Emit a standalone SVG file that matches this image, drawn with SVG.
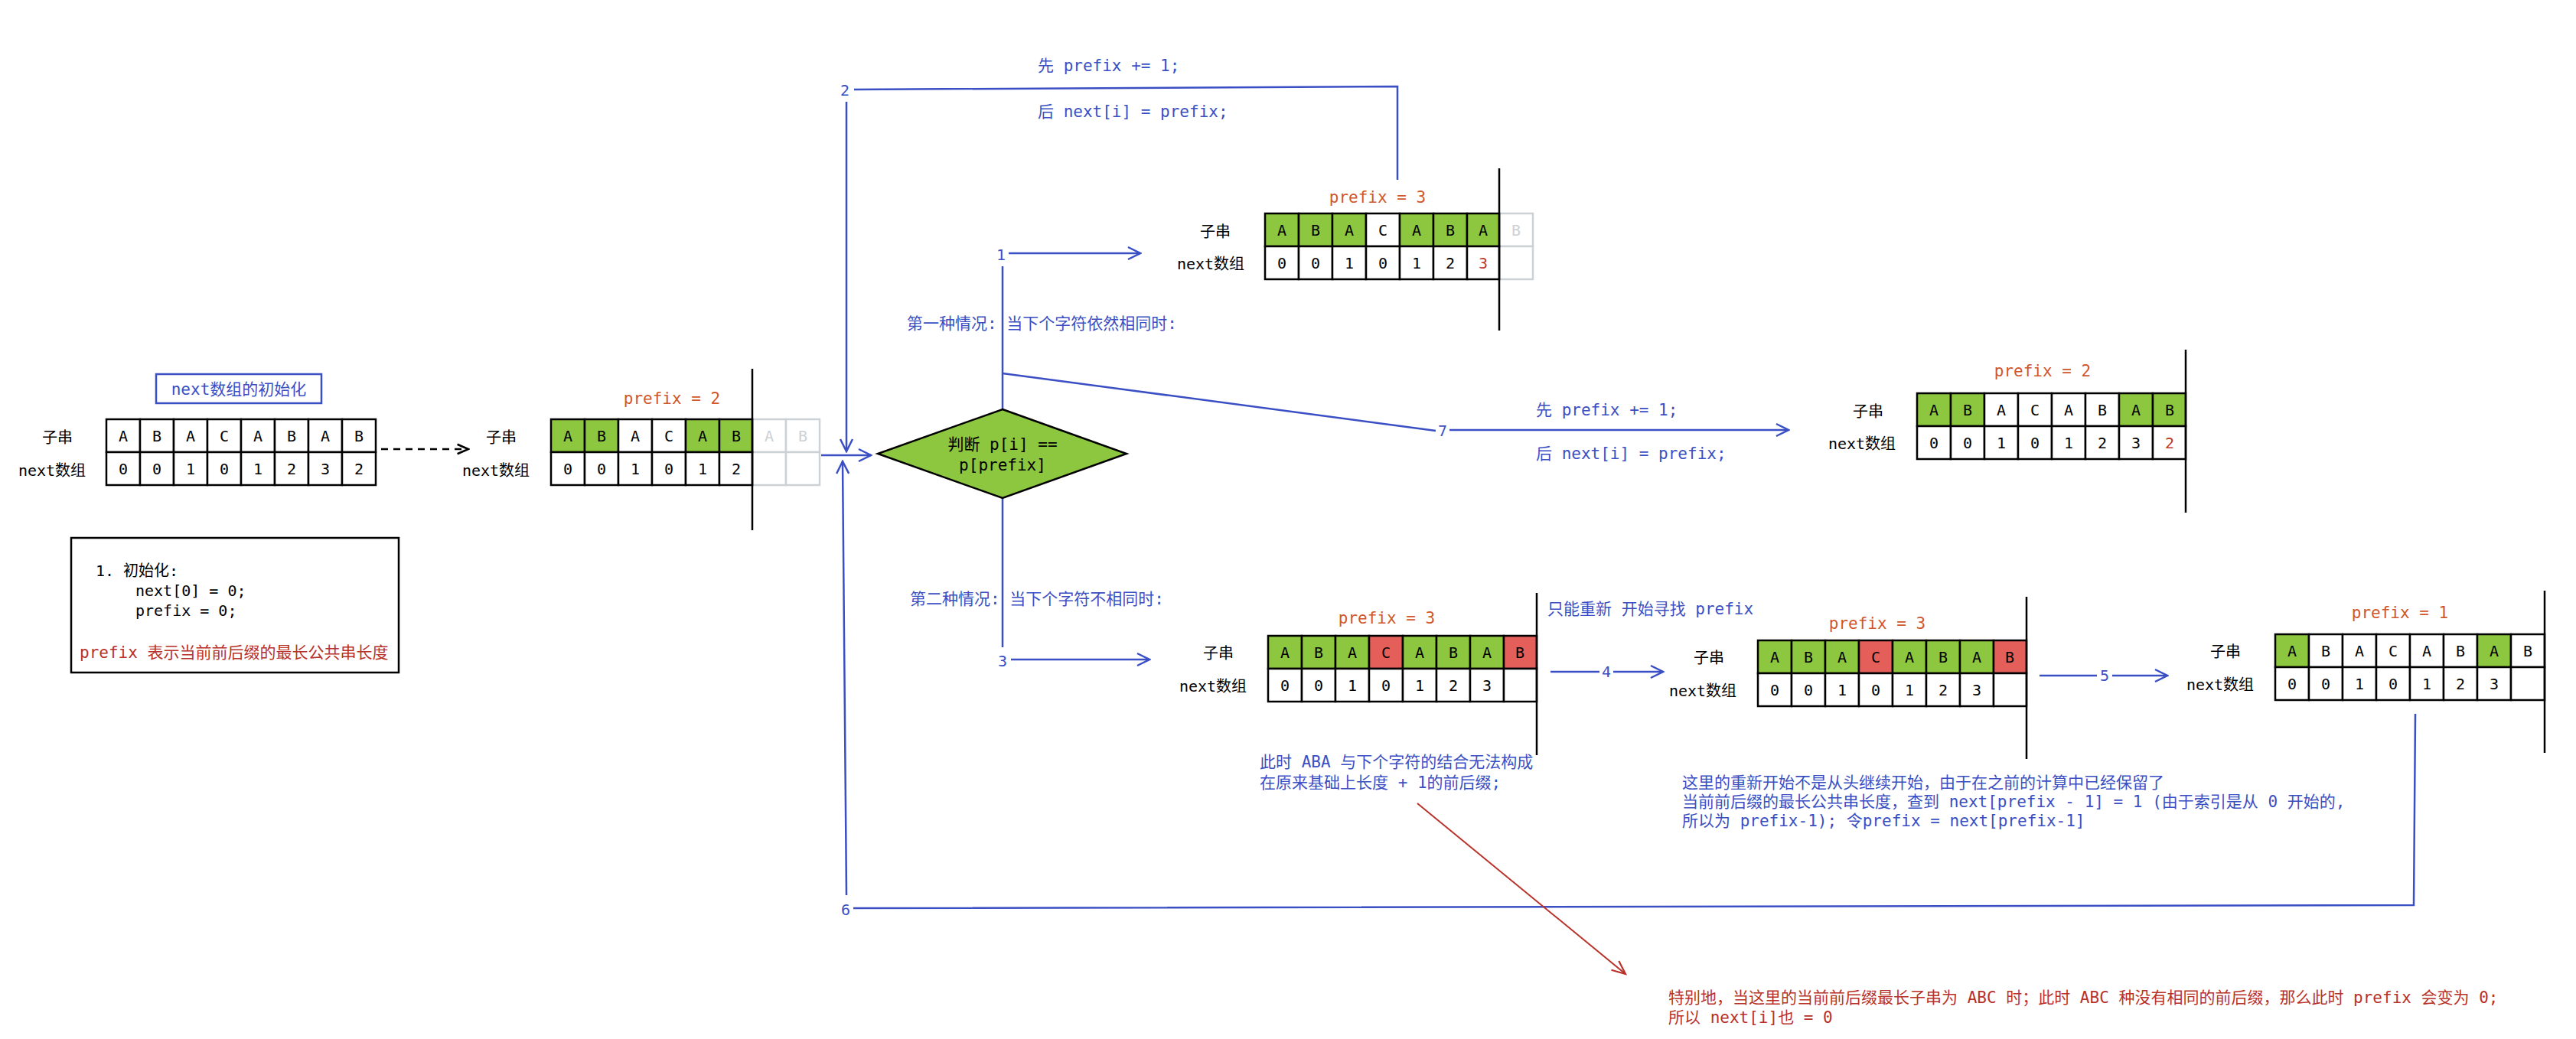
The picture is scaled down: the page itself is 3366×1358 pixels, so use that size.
<svg xmlns="http://www.w3.org/2000/svg" width="3366" height="1358" viewBox="0 0 3366 1358">
<defs>
<style>
text{font-family:"DejaVu Sans Mono","Noto Sans CJK SC",monospace;}
.cell{fill:#fff;stroke:#000;stroke-width:2.5;}
.g{fill:#8dc63f;}
.r{fill:#e45f59;}
.gc{fill:#fff;stroke:#ccd1d6;stroke-width:2.5;}
.ct{font-size:20px;fill:#000;text-anchor:middle;}
.gt{font-size:20px;fill:#ccd1d6;text-anchor:middle;}
.rt{font-size:20px;fill:#c0392b;text-anchor:middle;}
.lbl{font-size:20px;fill:#000;text-anchor:middle;}
.pf{font-size:21px;fill:#d0572b;text-anchor:middle;}
.bt{font-size:21px;fill:#3b4fc4;}
.num{font-size:20px;fill:#3b4fc4;text-anchor:middle;}
.red{font-size:21px;fill:#b8322a;}
.vl{stroke:#000;stroke-width:2.5;}
.con{stroke:#3b4fc4;stroke-width:2.5;fill:none;}
</style>
<marker id="ab" viewBox="0 0 20 20" refX="18" refY="10" markerWidth="20" markerHeight="20" markerUnits="userSpaceOnUse" orient="auto">
<path d="M2,2 L18,10 L2,18" fill="none" stroke="#3b4fc4" stroke-width="2.5"/>
</marker>
<marker id="ak" viewBox="0 0 20 20" refX="18" refY="10" markerWidth="18" markerHeight="18" markerUnits="userSpaceOnUse" orient="auto">
<path d="M2,3 L18,10 L2,17" fill="none" stroke="#000" stroke-width="3"/>
</marker>
<marker id="ar" viewBox="0 0 20 20" refX="18" refY="10" markerWidth="22" markerHeight="22" markerUnits="userSpaceOnUse" orient="auto">
<path d="M2,3 L18,10 L2,17" fill="none" stroke="#b8322a" stroke-width="2"/>
</marker>
</defs>
<rect width="3366" height="1358" fill="#fff"/>

<g id="connectors">
<line x1="482" y1="587" x2="612" y2="587" stroke="#000" stroke-width="2.5" stroke-dasharray="9,7" marker-end="url(#ak)"/>
<path class="con" d="M1826,235 L1826,113 L1116,117"/>
<path class="con" d="M1106,133 L1106,590" marker-end="url(#ab)"/>
<path class="con" d="M1073,595 L1138,595" marker-end="url(#ab)"/>
<path class="con" d="M1310,535 L1310,348"/>
<path class="con" d="M1318,331 L1490,331" marker-end="url(#ab)"/>
<path class="con" d="M1310,488 L1876,563"/>
<path class="con" d="M1894,562 L2337,562" marker-end="url(#ab)"/>
<path class="con" d="M1310,651 L1310,846"/>
<path class="con" d="M1321,862 L1502,862" marker-end="url(#ab)"/>
<path class="con" d="M2026,878 L2090,878 M2108,878 L2173,878" marker-end="url(#ab)"/>
<path class="con" d="M2665,883 L2740,883 M2760,883 L2832,883" marker-end="url(#ab)"/>
<path class="con" d="M3156,933 L3154,1183 L1115,1187"/>
<path class="con" d="M1106,1170 L1101,603" marker-end="url(#ab)"/>
<line x1="1852" y1="1050" x2="2124" y2="1273" stroke="#b8322a" stroke-width="2" marker-end="url(#ar)"/>
<text class="num" x="1104" y="125">2</text>
<text class="num" x="1308" y="340">1</text>
<text class="num" x="1310" y="871">3</text>
<text class="num" x="1885" y="570">7</text>
<text class="num" x="2099" y="885">4</text>
<text class="num" x="2750" y="890">5</text>
<text class="num" x="1105" y="1196">6</text>
</g>

<g id="init-title">
<rect x="204" y="489" width="216" height="38" fill="#fff" stroke="#3b4fc4" stroke-width="2.5"/>
<text class="bt" x="312" y="516" text-anchor="middle">next数组的初始化</text>
</g>

<g id="array-init">
<text class="lbl" x="75" y="579">子串</text>
<text class="lbl" x="68" y="622">next数组</text>
<rect class="cell" x="139" y="548" width="44" height="43"/><rect class="cell" x="183" y="548" width="44" height="43"/><rect class="cell" x="227" y="548" width="44" height="43"/><rect class="cell" x="271" y="548" width="44" height="43"/><rect class="cell" x="315" y="548" width="44" height="43"/><rect class="cell" x="359" y="548" width="44" height="43"/><rect class="cell" x="403" y="548" width="44" height="43"/><rect class="cell" x="447" y="548" width="44" height="43"/>
<rect class="cell" x="139" y="591" width="44" height="43"/><rect class="cell" x="183" y="591" width="44" height="43"/><rect class="cell" x="227" y="591" width="44" height="43"/><rect class="cell" x="271" y="591" width="44" height="43"/><rect class="cell" x="315" y="591" width="44" height="43"/><rect class="cell" x="359" y="591" width="44" height="43"/><rect class="cell" x="403" y="591" width="44" height="43"/><rect class="cell" x="447" y="591" width="44" height="43"/>
<text class="ct" x="161" y="577">A</text><text class="ct" x="205" y="577">B</text><text class="ct" x="249" y="577">A</text><text class="ct" x="293" y="577">C</text><text class="ct" x="337" y="577">A</text><text class="ct" x="381" y="577">B</text><text class="ct" x="425" y="577">A</text><text class="ct" x="469" y="577">B</text>
<text class="ct" x="161" y="620">0</text><text class="ct" x="205" y="620">0</text><text class="ct" x="249" y="620">1</text><text class="ct" x="293" y="620">0</text><text class="ct" x="337" y="620">1</text><text class="ct" x="381" y="620">2</text><text class="ct" x="425" y="620">3</text><text class="ct" x="469" y="620">2</text>
</g>

<g id="init-note">
<rect x="93" y="703" width="428" height="176" fill="#fff" stroke="#000" stroke-width="2.5"/>
<text x="125" y="753" font-size="20" fill="#000">1. 初始化:</text>
<text x="177" y="779" font-size="20" fill="#000">next[0] = 0;</text>
<text x="177" y="805" font-size="20" fill="#000">prefix = 0;</text>
<text class="red" x="104" y="860" font-size="20">prefix 表示当前前后缀的最长公共串长度</text>
</g>

<g id="array-2">
<text class="pf" x="878" y="528">prefix = 2</text>
<text class="lbl" x="655" y="579">子串</text>
<text class="lbl" x="648" y="622">next数组</text>
<rect class="gc" x="983" y="548" width="44" height="43"/><rect class="gc" x="1027" y="548" width="44" height="43"/>
<rect class="gc" x="983" y="591" width="44" height="43"/><rect class="gc" x="1027" y="591" width="44" height="43"/>
<rect class="cell g" x="720" y="548" width="44" height="43"/><rect class="cell g" x="764" y="548" width="44" height="43"/><rect class="cell" x="808" y="548" width="44" height="43"/><rect class="cell" x="852" y="548" width="44" height="43"/><rect class="cell g" x="896" y="548" width="44" height="43"/><rect class="cell g" x="940" y="548" width="43" height="43"/>
<rect class="cell" x="720" y="591" width="44" height="43"/><rect class="cell" x="764" y="591" width="44" height="43"/><rect class="cell" x="808" y="591" width="44" height="43"/><rect class="cell" x="852" y="591" width="44" height="43"/><rect class="cell" x="896" y="591" width="44" height="43"/><rect class="cell" x="940" y="591" width="43" height="43"/>
<text class="ct" x="742" y="577">A</text><text class="ct" x="786" y="577">B</text><text class="ct" x="830" y="577">A</text><text class="ct" x="874" y="577">C</text><text class="ct" x="918" y="577">A</text><text class="ct" x="962" y="577">B</text><text class="gt" x="1005" y="577">A</text><text class="gt" x="1049" y="577">B</text>
<text class="ct" x="742" y="620">0</text><text class="ct" x="786" y="620">0</text><text class="ct" x="830" y="620">1</text><text class="ct" x="874" y="620">0</text><text class="ct" x="918" y="620">1</text><text class="ct" x="962" y="620">2</text>
<line class="vl" x1="983" y1="482" x2="983" y2="693"/>
</g>

<g id="decision">
<polygon points="1310,535 1472,593 1310,651 1147,593" fill="#8dc63f" stroke="#000" stroke-width="2.5"/>
<text x="1310" y="588" font-size="21" fill="#000" text-anchor="middle">判断 p[i] ==</text>
<text x="1310" y="615" font-size="21" fill="#000" text-anchor="middle">p[prefix]</text>
</g>

<g id="case1-notes">
<text class="bt" x="1356" y="93">先 prefix += 1;</text>
<text class="bt" x="1356" y="153">后 next[i] = prefix;</text>
<text class="bt" x="1185" y="430" font-size="22">第一种情况:  当下个字符依然相同时:</text>
<text class="bt" x="2007" y="543">先 prefix += 1;</text>
<text class="bt" x="2007" y="600">后 next[i] = prefix;</text>
</g>

<g id="array-4">
<text class="pf" x="1800" y="265">prefix = 3</text>
<text class="lbl" x="1588" y="310">子串</text>
<text class="lbl" x="1582" y="352">next数组</text>
<rect class="gc" x="1959" y="279" width="44" height="43"/><rect class="gc" x="1959" y="322" width="44" height="43"/>
<rect class="cell g" x="1653" y="279" width="44" height="43"/><rect class="cell g" x="1697" y="279" width="44" height="43"/><rect class="cell g" x="1741" y="279" width="44" height="43"/><rect class="cell" x="1785" y="279" width="44" height="43"/><rect class="cell g" x="1829" y="279" width="44" height="43"/><rect class="cell g" x="1873" y="279" width="44" height="43"/><rect class="cell g" x="1917" y="279" width="42" height="43"/>
<rect class="cell" x="1653" y="322" width="44" height="43"/><rect class="cell" x="1697" y="322" width="44" height="43"/><rect class="cell" x="1741" y="322" width="44" height="43"/><rect class="cell" x="1785" y="322" width="44" height="43"/><rect class="cell" x="1829" y="322" width="44" height="43"/><rect class="cell" x="1873" y="322" width="44" height="43"/><rect class="cell" x="1917" y="322" width="42" height="43"/>
<text class="ct" x="1675" y="308">A</text><text class="ct" x="1719" y="308">B</text><text class="ct" x="1763" y="308">A</text><text class="ct" x="1807" y="308">C</text><text class="ct" x="1851" y="308">A</text><text class="ct" x="1895" y="308">B</text><text class="ct" x="1938" y="308">A</text><text class="gt" x="1981" y="308">B</text>
<text class="ct" x="1675" y="351">0</text><text class="ct" x="1719" y="351">0</text><text class="ct" x="1763" y="351">1</text><text class="ct" x="1807" y="351">0</text><text class="ct" x="1851" y="351">1</text><text class="ct" x="1895" y="351">2</text><text class="rt" x="1938" y="351">3</text>
<line class="vl" x1="1959" y1="220" x2="1959" y2="432"/>
</g>

<g id="array-3">
<text class="pf" x="2669" y="492">prefix = 2</text>
<text class="lbl" x="2441" y="545">子串</text>
<text class="lbl" x="2433" y="587">next数组</text>
<rect class="cell g" x="2505" y="514" width="44" height="43"/><rect class="cell g" x="2549" y="514" width="44" height="43"/><rect class="cell" x="2593" y="514" width="44" height="43"/><rect class="cell" x="2637" y="514" width="44" height="43"/><rect class="cell" x="2681" y="514" width="44" height="43"/><rect class="cell" x="2725" y="514" width="44" height="43"/><rect class="cell g" x="2769" y="514" width="44" height="43"/><rect class="cell g" x="2813" y="514" width="43" height="43"/>
<rect class="cell" x="2505" y="557" width="44" height="43"/><rect class="cell" x="2549" y="557" width="44" height="43"/><rect class="cell" x="2593" y="557" width="44" height="43"/><rect class="cell" x="2637" y="557" width="44" height="43"/><rect class="cell" x="2681" y="557" width="44" height="43"/><rect class="cell" x="2725" y="557" width="44" height="43"/><rect class="cell" x="2769" y="557" width="44" height="43"/><rect class="cell" x="2813" y="557" width="43" height="43"/>
<text class="ct" x="2527" y="543">A</text><text class="ct" x="2571" y="543">B</text><text class="ct" x="2615" y="543">A</text><text class="ct" x="2659" y="543">C</text><text class="ct" x="2703" y="543">A</text><text class="ct" x="2747" y="543">B</text><text class="ct" x="2791" y="543">A</text><text class="ct" x="2835" y="543">B</text>
<text class="ct" x="2527" y="586">0</text><text class="ct" x="2571" y="586">0</text><text class="ct" x="2615" y="586">1</text><text class="ct" x="2659" y="586">0</text><text class="ct" x="2703" y="586">1</text><text class="ct" x="2747" y="586">2</text><text class="ct" x="2791" y="586">3</text><text class="rt" x="2835" y="586">2</text>
<line class="vl" x1="2856" y1="457" x2="2856" y2="670"/>
</g>

<g id="case2-notes">
<text class="bt" x="1189" y="790" font-size="22">第二种情况:  当下个字符不相同时:</text>
<text class="bt" x="2022" y="803">只能重新 开始寻找 prefix</text>
<text class="bt" x="1646" y="1003">此时 ABA 与下个字符的结合无法构成</text>
<text class="bt" x="1646" y="1030">在原来基础上长度 + 1的前后缀;</text>
<text class="bt" x="2198" y="1030">这里的重新开始不是从头继续开始，由于在之前的计算中已经保留了</text>
<text class="bt" x="2198" y="1055">当前前后缀的最长公共串长度，查到 next[prefix - 1] = 1 (由于索引是从 0 开始的,</text>
<text class="bt" x="2198" y="1080">所以为 prefix-1); 令prefix = next[prefix-1]</text>
<text class="red" x="2180" y="1311">特别地，当这里的当前前后缀最长子串为 ABC 时；此时 ABC 种没有相同的前后缀，那么此时 prefix 会变为 0;</text>
<text class="red" x="2180" y="1337">所以 next[i]也 = 0</text>
</g>

<g id="array-5">
<text class="pf" x="1812" y="815">prefix = 3</text>
<text class="lbl" x="1592" y="861">子串</text>
<text class="lbl" x="1585" y="904">next数组</text>
<rect class="cell g" x="1657" y="831" width="44" height="43"/><rect class="cell g" x="1701" y="831" width="44" height="43"/><rect class="cell g" x="1745" y="831" width="44" height="43"/><rect class="cell r" x="1789" y="831" width="44" height="43"/><rect class="cell g" x="1833" y="831" width="44" height="43"/><rect class="cell g" x="1877" y="831" width="44" height="43"/><rect class="cell g" x="1921" y="831" width="44" height="43"/><rect class="cell r" x="1965" y="831" width="43" height="43"/>
<rect class="cell" x="1657" y="874" width="44" height="43"/><rect class="cell" x="1701" y="874" width="44" height="43"/><rect class="cell" x="1745" y="874" width="44" height="43"/><rect class="cell" x="1789" y="874" width="44" height="43"/><rect class="cell" x="1833" y="874" width="44" height="43"/><rect class="cell" x="1877" y="874" width="44" height="43"/><rect class="cell" x="1921" y="874" width="44" height="43"/><rect class="cell" x="1965" y="874" width="43" height="43"/>
<text class="ct" x="1679" y="860">A</text><text class="ct" x="1723" y="860">B</text><text class="ct" x="1767" y="860">A</text><text class="ct" x="1811" y="860">C</text><text class="ct" x="1855" y="860">A</text><text class="ct" x="1899" y="860">B</text><text class="ct" x="1943" y="860">A</text><text class="ct" x="1986" y="860">B</text>
<text class="ct" x="1679" y="903">0</text><text class="ct" x="1723" y="903">0</text><text class="ct" x="1767" y="903">1</text><text class="ct" x="1811" y="903">0</text><text class="ct" x="1855" y="903">1</text><text class="ct" x="1899" y="903">2</text><text class="ct" x="1943" y="903">3</text>
<line class="vl" x1="2008" y1="775" x2="2008" y2="987"/>
</g>

<g id="array-6">
<text class="pf" x="2453" y="822">prefix = 3</text>
<text class="lbl" x="2233" y="867">子串</text>
<text class="lbl" x="2225" y="910">next数组</text>
<rect class="cell g" x="2297" y="837" width="44" height="43"/><rect class="cell g" x="2341" y="837" width="44" height="43"/><rect class="cell g" x="2385" y="837" width="44" height="43"/><rect class="cell r" x="2429" y="837" width="44" height="43"/><rect class="cell g" x="2473" y="837" width="44" height="43"/><rect class="cell g" x="2517" y="837" width="44" height="43"/><rect class="cell g" x="2561" y="837" width="44" height="43"/><rect class="cell r" x="2605" y="837" width="43" height="43"/>
<rect class="cell" x="2297" y="880" width="44" height="43"/><rect class="cell" x="2341" y="880" width="44" height="43"/><rect class="cell" x="2385" y="880" width="44" height="43"/><rect class="cell" x="2429" y="880" width="44" height="43"/><rect class="cell" x="2473" y="880" width="44" height="43"/><rect class="cell" x="2517" y="880" width="44" height="43"/><rect class="cell" x="2561" y="880" width="44" height="43"/><rect class="cell" x="2605" y="880" width="43" height="43"/>
<text class="ct" x="2319" y="866">A</text><text class="ct" x="2363" y="866">B</text><text class="ct" x="2407" y="866">A</text><text class="ct" x="2451" y="866">C</text><text class="ct" x="2495" y="866">A</text><text class="ct" x="2539" y="866">B</text><text class="ct" x="2583" y="866">A</text><text class="ct" x="2626" y="866">B</text>
<text class="ct" x="2319" y="909">0</text><text class="ct" x="2363" y="909">0</text><text class="ct" x="2407" y="909">1</text><text class="ct" x="2451" y="909">0</text><text class="ct" x="2495" y="909">1</text><text class="ct" x="2539" y="909">2</text><text class="ct" x="2583" y="909">3</text>
<line class="vl" x1="2648" y1="780" x2="2648" y2="992"/>
</g>

<g id="array-7">
<text class="pf" x="3136" y="808">prefix = 1</text>
<text class="lbl" x="2908" y="859">子串</text>
<text class="lbl" x="2901" y="902">next数组</text>
<rect class="cell g" x="2973" y="829" width="44" height="43"/><rect class="cell" x="3017" y="829" width="44" height="43"/><rect class="cell" x="3061" y="829" width="44" height="43"/><rect class="cell" x="3105" y="829" width="44" height="43"/><rect class="cell" x="3149" y="829" width="44" height="43"/><rect class="cell" x="3193" y="829" width="44" height="43"/><rect class="cell g" x="3237" y="829" width="44" height="43"/><rect class="cell" x="3281" y="829" width="44" height="43"/>
<rect class="cell" x="2973" y="872" width="44" height="43"/><rect class="cell" x="3017" y="872" width="44" height="43"/><rect class="cell" x="3061" y="872" width="44" height="43"/><rect class="cell" x="3105" y="872" width="44" height="43"/><rect class="cell" x="3149" y="872" width="44" height="43"/><rect class="cell" x="3193" y="872" width="44" height="43"/><rect class="cell" x="3237" y="872" width="44" height="43"/><rect class="cell" x="3281" y="872" width="44" height="43"/>
<text class="ct" x="2995" y="858">A</text><text class="ct" x="3039" y="858">B</text><text class="ct" x="3083" y="858">A</text><text class="ct" x="3127" y="858">C</text><text class="ct" x="3171" y="858">A</text><text class="ct" x="3215" y="858">B</text><text class="ct" x="3259" y="858">A</text><text class="ct" x="3303" y="858">B</text>
<text class="ct" x="2995" y="901">0</text><text class="ct" x="3039" y="901">0</text><text class="ct" x="3083" y="901">1</text><text class="ct" x="3127" y="901">0</text><text class="ct" x="3171" y="901">1</text><text class="ct" x="3215" y="901">2</text><text class="ct" x="3259" y="901">3</text>
<line class="vl" x1="3325" y1="772" x2="3325" y2="984"/>
</g>
</svg>
